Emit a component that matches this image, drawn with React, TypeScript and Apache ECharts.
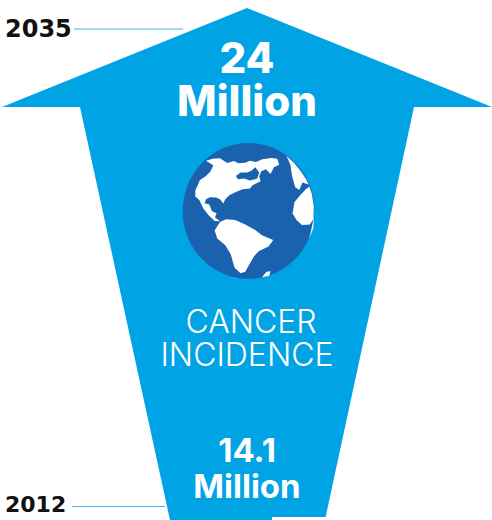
import React, { useEffect, useRef } from "react";
import * as echarts from "echarts";

const W = 492;
const H = 520;
const BLUE = "#00a4e4";
const GLOBE = "#1b62ae";
const RULE = "#45b6e8";

const years = ["2035", "2012"];
const topValue = ["24", "Million"];
const bottomValue = ["14.1", "Million"];
const title = ["CANCER", "INCIDENCE"];

const arrowOutline = [
  [247, 8], [492, 107], [414, 107], [325, 520], [170, 520], [80, 107], [2, 107],
];

// Land masses, drawn in a 480-unit box that is scaled down over the globe.
const northAmerica = [
  [108, 92], [128, 86], [150, 85], [172, 99], [192, 93], [205, 100], [226, 98], [240, 92], [258, 96], [278, 88],
  [304, 84], [322, 86], [328, 104], [312, 112], [302, 132], [288, 118], [274, 124], [268, 140], [272, 154], [248, 166],
  [240, 176], [218, 178], [198, 186], [178, 196], [166, 208], [160, 221], [150, 208], [138, 203], [120, 202], [108, 208],
  [104, 220], [118, 224], [126, 244], [140, 250], [135, 262], [150, 274], [134, 273], [116, 256], [100, 236], [88, 210],
  [76, 200], [76, 182], [90, 150], [108, 138], [122, 124], [130, 106],
];
const hudsonBay = [
  [198, 138], [212, 128], [232, 128], [244, 122], [256, 112], [268, 128], [262, 146], [240, 152], [222, 146], [204, 148],
];
const southAmerica = [
  [150, 276], [168, 268], [196, 270], [226, 284], [256, 300], [276, 316], [310, 330], [296, 350], [266, 364], [252, 380],
  [238, 404], [226, 426], [212, 430], [194, 414], [182, 372], [166, 346], [142, 326], [134, 302],
];
const africa = [
  [418, 170], [426, 192], [432, 230], [430, 268], [420, 284], [396, 285], [380, 270], [368, 250], [374, 216], [394, 192], [408, 178],
];
const europe = [
  [350, 78], [372, 98], [392, 122], [410, 150], [416, 164], [398, 158], [388, 180], [376, 172], [366, 136], [362, 106],
];
const southTip = [[276, 442], [290, 426], [302, 424], [298, 438]];
const eastRim = [[430, 270], [434, 240], [430, 296], [418, 326], [424, 300]];

function App() {
  const ref = useRef<HTMLDivElement>(null);

  useEffect(() => {
    const chart = echarts.init(ref.current!, null, { renderer: "svg" });

    const label = (text: string, x: number, y: number, fontSize: number, fontWeight: number | string, fill = "#fff", align = "center", fontFamily = "Inter") => ({
      type: "text",
      x,
      y,
      style: { text, fontSize, fontWeight, fill, fontFamily, align, verticalAlign: "middle" },
    });
    const land = (points: number[][], fill = "#fff") => ({
      type: "polygon",
      shape: { points },
      style: { fill },
    });

    chart.setOption({
      animation: false,
      backgroundColor: "#fff",
      graphic: [
        { type: "polygon", shape: { points: arrowOutline }, style: { fill: BLUE } },
        { type: "rect", shape: { x: 272, y: 517, width: 58, height: 3 }, style: { fill: "#fff" } },
        { type: "line", shape: { x1: 74, y1: 29, x2: 183, y2: 29 }, style: { stroke: RULE, lineWidth: 1 } },
        { type: "line", shape: { x1: 72, y1: 506.5, x2: 165, y2: 506.5 }, style: { stroke: RULE, lineWidth: 1 } },
        label(years[0], 5, 29, 24, 700, "#111", "left", "DejaVu Sans"),
        label(years[1], 5, 504, 22, 700, "#111", "left", "DejaVu Sans"),
        label(topValue[0], 247, 57, 42, 800),
        label(topValue[1], 247, 100, 42, 800),
        label(title[0], 251, 321, 32, 300),
        label(title[1], 247, 354, 32, 300),
        label(bottomValue[0], 247, 450, 33, 700),
        label(bottomValue[1], 247, 486, 33, 700),
        {
          type: "group",
          x: 170,
          y: 130,
          scaleX: 1 / 3,
          scaleY: 1 / 3,
          children: [
            { type: "ellipse", shape: { cx: 236, cy: 243, rx: 198, ry: 204 }, style: { fill: GLOBE } },
            land(northAmerica),
            land(hudsonBay, GLOBE),
            land(southAmerica),
            land(africa),
            land(europe),
            land(southTip),
            land(eastRim),
          ],
        },
      ],
    });

    return () => chart.dispose();
  }, []);

  return <div ref={ref} style={{ position: "absolute", left: 0, top: 0, width: W, height: H }} />;
}

export default App;
